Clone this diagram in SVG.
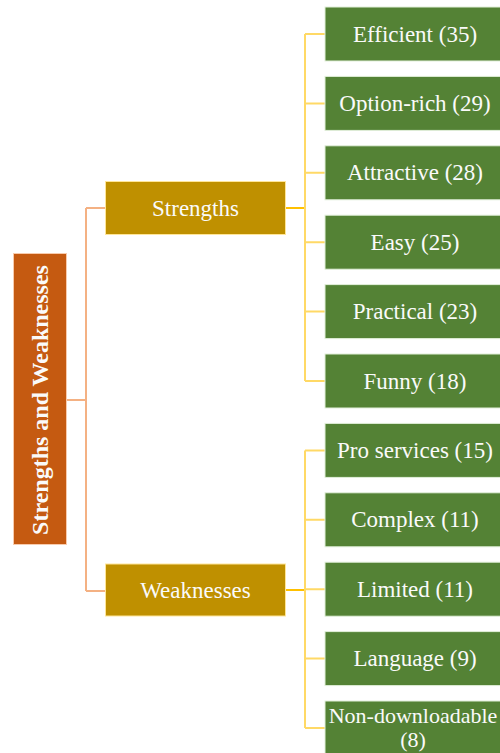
<svg xmlns="http://www.w3.org/2000/svg" width="500" height="753" viewBox="0 0 500 753">
<style>
.root{fill:#C55A11;stroke:#F8CBAD;stroke-width:1}
.mid{fill:#BF9000;stroke:#FFE699;stroke-width:1}
.leaf{fill:#548235;stroke:#E2EFDA;stroke-width:1}
text{font-family:"Liberation Serif","Times New Roman",serif;fill:#FAFAFA;text-anchor:middle;dominant-baseline:central}
.t{font-size:23px}
.s{font-size:22px}
.rt{font-size:24px;font-weight:bold}
.c1{stroke:#F4B183;stroke-width:2;fill:none}
.c2{stroke:#FFC000;stroke-width:2;fill:none}
.c3{stroke:#FFD966;stroke-width:2;fill:none}
</style>
<g id="connectors">
<path class="c1" d="M66,400 H86 M86,208 V591 M86,208 H106 M86,591 H106"/>
<path class="c2" d="M285,208 H305 M285,590 H305"/>
<path class="c3" d="M305,34 V381 M305,34 H325 M305,103.4 H325 M305,172.8 H325 M305,242.2 H325 M305,311.6 H325 M305,381 H325"/>
<path class="c3" d="M305,450.4 V728 M305,450.4 H325 M305,519.8 H325 M305,589.2 H325 M305,658.6 H325 M305,728 H325"/>
</g>
<g id="root"><rect class="root" x="13.5" y="253.5" width="53" height="291"/><text class="rt" transform="translate(40,400) rotate(-90)">Strengths and Weaknesses</text></g>
<g id="strengths"><rect class="mid" x="105.5" y="181.5" width="180" height="53"/><text class="t" x="195.5" y="208">Strengths</text></g>
<g id="weaknesses"><rect class="mid" x="105.5" y="564" width="180" height="52"/><text class="t" x="195.5" y="590">Weaknesses</text></g>
<g id="n1"><rect class="leaf" x="325" y="7" width="180" height="54"/><text class="t" x="415" y="34">Efficient (35)</text></g>
<g id="n2"><rect class="leaf" x="325" y="76.4" width="180" height="54"/><text class="t" x="415" y="103.4">Option-rich (29)</text></g>
<g id="n3"><rect class="leaf" x="325" y="145.8" width="180" height="54"/><text class="t" x="415" y="172.8">Attractive (28)</text></g>
<g id="n4"><rect class="leaf" x="325" y="215.2" width="180" height="54"/><text class="t" x="415" y="242.2">Easy (25)</text></g>
<g id="n5"><rect class="leaf" x="325" y="284.6" width="180" height="54"/><text class="t" x="415" y="311.6">Practical (23)</text></g>
<g id="n6"><rect class="leaf" x="325" y="354" width="180" height="54"/><text class="t" x="415" y="381">Funny (18)</text></g>
<g id="n7"><rect class="leaf" x="325" y="423.4" width="180" height="54"/><text class="t" x="415" y="450.4">Pro services (15)</text></g>
<g id="n8"><rect class="leaf" x="325" y="492.8" width="180" height="54"/><text class="t" x="415" y="519.8">Complex (11)</text></g>
<g id="n9"><rect class="leaf" x="325" y="562.2" width="180" height="54"/><text class="t" x="415" y="589.2">Limited (11)</text></g>
<g id="n10"><rect class="leaf" x="325" y="631.6" width="180" height="54"/><text class="t" x="415" y="658.6">Language (9)</text></g>
<g id="n11"><rect class="leaf" x="325" y="701" width="180" height="54"/><text class="s" x="413" y="715">Non-downloadable</text><text class="s" x="413" y="739">(8)</text></g>
</svg>
